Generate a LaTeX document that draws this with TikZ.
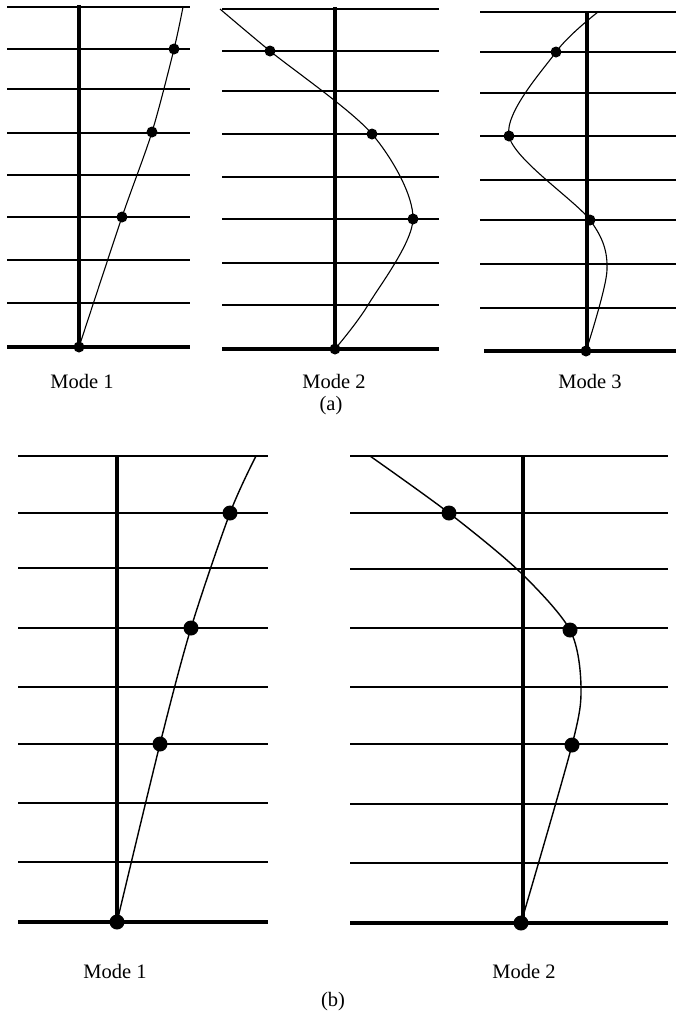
\documentclass[tikz,border=0pt]{standalone}
\usepackage{fontspec}
\setmainfont{Liberation Serif}
\usetikzlibrary{positioning}

\tikzset{
  floor/.style={line width=2.6pt},
  ground/.style={line width=4pt},
  axis/.style={line width=3.2pt},
  modeline/.style={line width=1.1pt},
  mass/.style={circle,fill,inner sep=0pt,minimum size=11pt},
  bigmass/.style={circle,fill,inner sep=0pt,minimum size=15pt},
  caption/.style={anchor=base,font=\fontsize{20.5}{24}\selectfont}
}

\begin{document}
\begin{tikzpicture}[x=1pt,y=-1pt]
\useasboundingbox (0,0) rectangle (676,1013);

% (a) Mode 1
\foreach \y in {7,49,89,133,175,217,260,303}
  \draw[floor] (7,\y) -- (190,\y);
\draw[ground] (7,347) -- (190,347);
\draw[axis] (79,5) -- (79,347);
\coordinate (a1top) at (183,7);
\node[mass] (a1m0) at (79,347) {};
\node[mass] (a1m1) at (122,217) {};
\node[mass] (a1m2) at (152,132) {};
\node[mass] (a1m3) at (174,49) {};
\draw[modeline] plot[smooth] coordinates {(a1m0.center) (a1m1.center) (a1m2.center) (a1m3.center) (a1top)};
\node[caption] (a1lab) at (82,388) {Mode 1};

% (a) Mode 2
\foreach \y in {9,51,91,134,177,219,263,305}
  \draw[floor] (222,\y) -- (439,\y);
\draw[ground] (222,349) -- (439,349);
\draw[axis] (335,7) -- (335,349);
\coordinate (a2top) at (220,9);
\coordinate (a2low) at (368,305);
\node[mass] (a2m0) at (335,349) {};
\node[mass] (a2m1) at (413,219) {};
\node[mass] (a2m2) at (372,134) {};
\node[mass] (a2m3) at (270,51) {};
\draw[modeline] plot[smooth] coordinates {(a2m0.center) (a2low) (a2m1.center) (a2m2.center) (a2m3.center) (a2top)};
\node[caption] (a2lab) at (334,388) {Mode 2};

% (a) Mode 3
\foreach \y in {12,52,93,136,180,220,264,308}
  \draw[floor] (480,\y) -- (676,\y);
\draw[ground] (484,351) -- (676,351);
\draw[axis] (587,12) -- (587,351);
\coordinate (a3top) at (598,12);
\coordinate (a3bulge) at (607,270);
\node[mass] (a3m0) at (586,351) {};
\node[mass] (a3m1) at (590,220) {};
\node[mass] (a3m2) at (509,136) {};
\node[mass] (a3m3) at (556,52) {};
\draw[modeline] plot[smooth] coordinates {(a3m0.center) (a3bulge) (a3m1.center) (a3m2.center) (a3m3.center) (a3top)};
\node[caption] (a3lab) at (590,388) {Mode 3};

\node[caption] (alab) at (331,410) {(a)};

% (b) Mode 1
\foreach \y in {456,513,568,628,687,744,803,862}
  \draw[floor] (18,\y) -- (268,\y);
\draw[ground] (18,922) -- (268,922);
\draw[axis] (117,456) -- (117,922);
\coordinate (b1top) at (256,456);
\node[bigmass] (b1m0) at (117,922) {};
\node[bigmass] (b1m1) at (160,744) {};
\node[bigmass] (b1m2) at (191,628) {};
\node[bigmass] (b1m3) at (230,513) {};
\draw[modeline,line width=1.4pt] plot[smooth] coordinates {(b1m0.center) (b1m1.center) (b1m2.center) (b1m3.center) (b1top)};
\node[caption] (b1lab) at (115,978) {Mode 1};

% (b) Mode 2
\foreach \y in {456,513,569,628,687,744,804,863}
  \draw[floor] (350,\y) -- (668,\y);
\draw[ground] (350,923) -- (668,923);
\draw[axis] (523,456) -- (523,923);
\coordinate (b2top) at (370,456);
\coordinate (b2mid) at (520,572);
\coordinate (b2bulge) at (581,687);
\node[bigmass] (b2m0) at (521,923) {};
\node[bigmass] (b2m1) at (572,745) {};
\node[bigmass] (b2m2) at (570,630) {};
\node[bigmass] (b2m3) at (449,513) {};
\draw[modeline,line width=1.4pt] plot[smooth] coordinates {(b2m0.center) (b2m1.center) (b2bulge) (b2m2.center) (b2mid) (b2m3.center) (b2top)};
\node[caption] (b2lab) at (524,978) {Mode 2};

\node[caption] (blab) at (333,1006) {(b)};
\end{tikzpicture}
\end{document}
